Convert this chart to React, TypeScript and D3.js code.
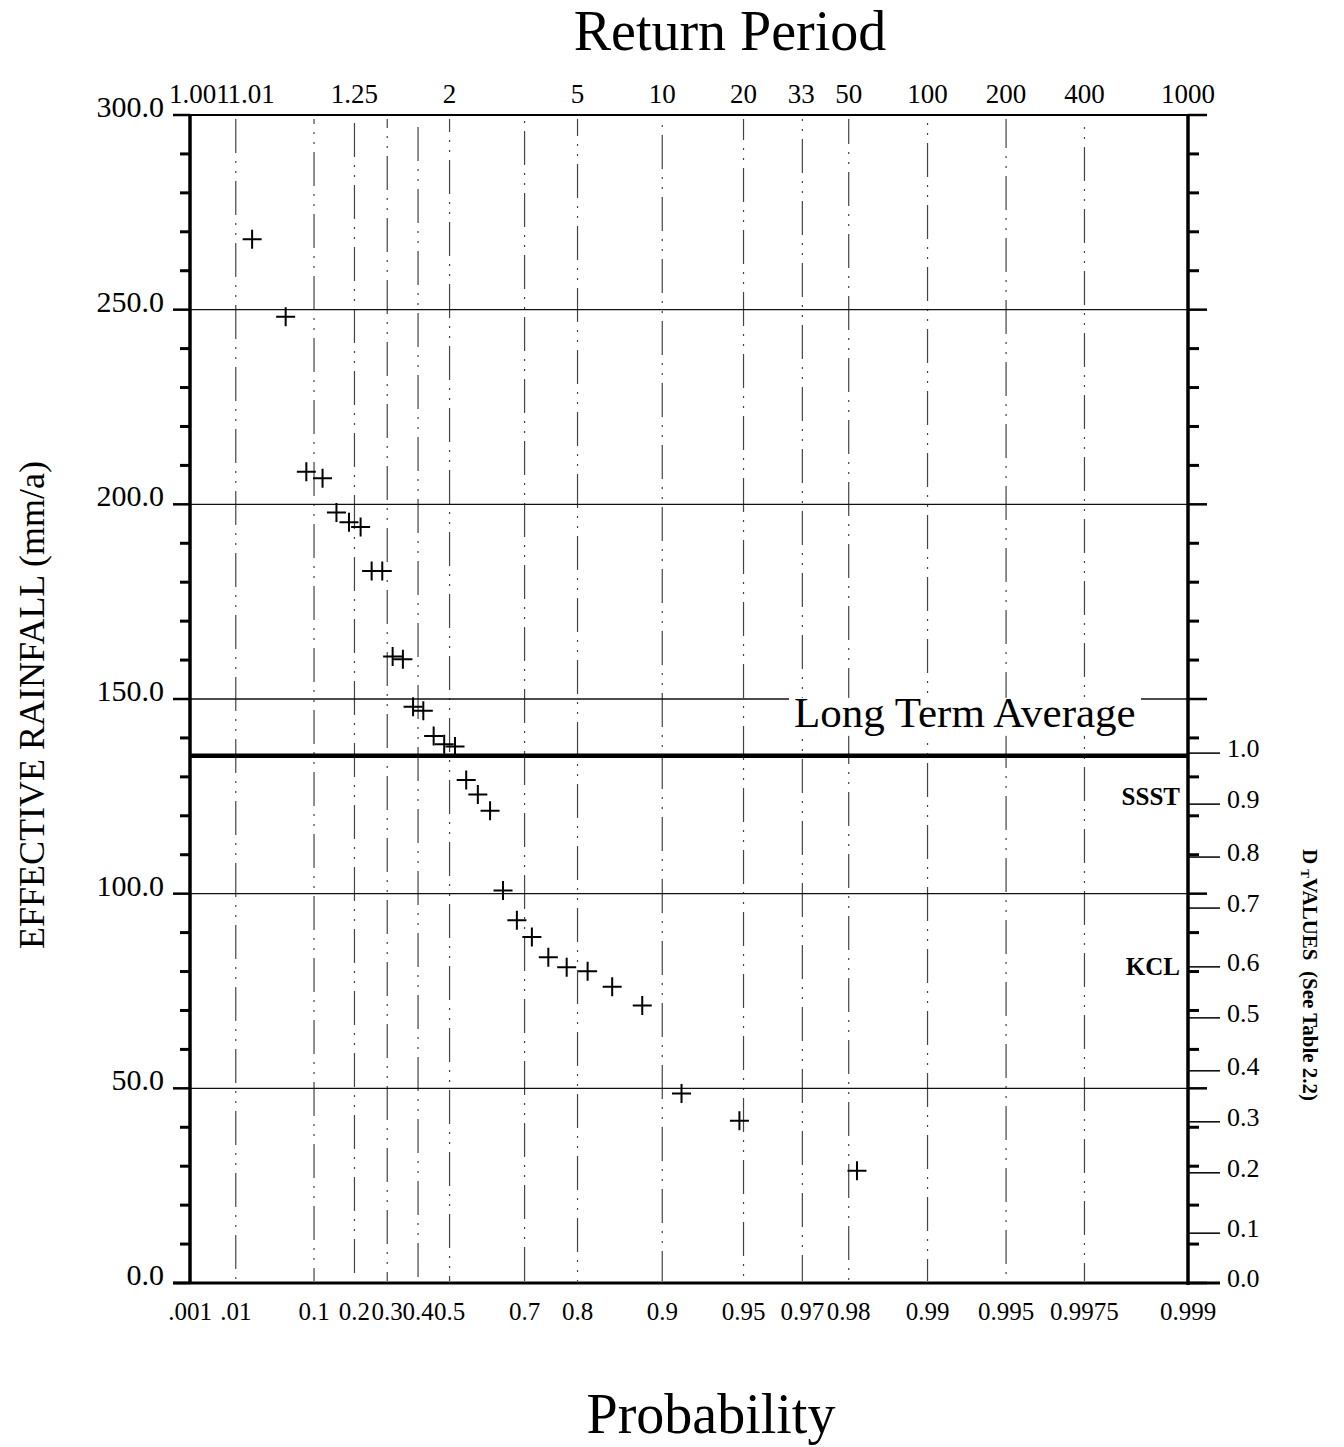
import React, { useEffect, useRef } from "react";
import * as d3 from "d3";

// effective rainfall, ranked (mm/a)
const rainfall = [
  268.1, 248.2, 208.4, 206.7, 197.9, 195.4, 194.2, 182.9, 182.9, 160.9,
  160.2, 148.0, 147.0, 140.5, 138.4, 137.8, 129.2, 125.5, 121.3, 100.8,
  93.2, 88.9, 83.7, 81.1, 80.1, 76.1, 71.3, 48.7, 41.7, 28.8,
];

// probability of each point
const probability = [
  0.0186, 0.0518, 0.085, 0.1182, 0.1514, 0.1846, 0.2178, 0.251, 0.2842, 0.3174,
  0.3506, 0.3838, 0.417, 0.4502, 0.4834, 0.5166, 0.5498, 0.583, 0.6162, 0.6494,
  0.6826, 0.7158, 0.749, 0.7822, 0.8154, 0.8486, 0.8818, 0.915, 0.9482, 0.9814,
];

const probTicks = [
  0.001, 0.01, 0.1, 0.2, 0.3, 0.4, 0.5, 0.7, 0.8, 0.9, 0.95, 0.97, 0.98, 0.99,
  0.995, 0.9975, 0.999,
];
const probLabels = [
  ".001", ".01", "0.1", "0.2", "0.3", "0.4", "0.5", "0.7", "0.8", "0.9",
  "0.95", "0.97", "0.98", "0.99", "0.995", "0.9975", "0.999",
];

const returnPeriods = [1.001, 1.01, 1.25, 2, 5, 10, 20, 33, 50, 100, 200, 400, 1000];
const returnLabels = [
  "1.001", "1.01", "1.25", "2", "5", "10", "20", "33", "50", "100", "200", "400", "1000",
];

const rainTicks = [0, 50, 100, 150, 200, 250, 300];

// D_T values on the right, with the rainfall level each one sits at
const dValues = [0, 0.1, 0.2, 0.3, 0.4, 0.5, 0.6, 0.7, 0.8, 0.9, 1.0];
const dRainfall = [0, 12.8, 28.3, 41.4, 54.5, 68.1, 81.2, 96.3, 109.4, 123.0, 136.1];

const longTermAverage = 135.4;

const serif = "'Liberation Serif', 'Times New Roman', serif";

const App = () => {
  const svgRef = useRef(null);

  useEffect(() => {
    const width = 1344;
    const height = 1447;
    const left = 190;
    const right = 1188;
    const top = 115;
    const bottom = 1283;

    const svg = d3.select(svgRef.current);
    svg.selectAll("*").remove();
    svg.attr("viewBox", [0, 0, width, height]).style("font-family", serif);

    svg.append("rect").attr("width", width).attr("height", height).attr("fill", "#fff");

    // gumbel reduced variate for the probability paper
    const gumbel = (p) => -Math.log(-Math.log(p));
    const gx = d3.scaleLinear().domain([gumbel(0.001), gumbel(0.999)]).range([left, right]);
    const x = (p) => gx(gumbel(p));
    const y = d3.scaleLinear().domain([0, 300]).range([bottom, top]);
    const dToRain = d3.scaleLinear().domain(dValues).range(dRainfall);

    // vertical dash-dot grid (scanned look: uneven phase per line)
    probTicks.slice(1, -1).forEach((p, i) => {
      svg
        .append("line")
        .attr("x1", x(p))
        .attr("x2", x(p))
        .attr("y1", top + 4)
        .attr("y2", bottom - 2)
        .attr("stroke", "#444")
        .attr("stroke-width", 1.2)
        .attr("stroke-dasharray", "34 8 2 8 2 8")
        .attr("stroke-dashoffset", (i * 29) % 62);
    });

    // horizontal grid lines
    rainTicks.slice(1, -1).forEach((r) => {
      svg
        .append("line")
        .attr("x1", left)
        .attr("x2", right)
        .attr("y1", y(r))
        .attr("y2", y(r))
        .attr("stroke", "#111")
        .attr("stroke-width", 1.4);
    });

    // long term average label with white backing
    svg
      .append("rect")
      .attr("x", 789)
      .attr("y", y(longTermAverage) - 58)
      .attr("width", 352)
      .attr("height", 38)
      .attr("fill", "#fff");
    svg
      .append("text")
      .attr("x", 794)
      .attr("y", y(longTermAverage) - 29)
      .attr("font-size", 43)
      .attr("fill", "#000")
      .text("Long Term Average");

    svg
      .append("line")
      .attr("x1", left)
      .attr("x2", right)
      .attr("y1", y(longTermAverage))
      .attr("y2", y(longTermAverage))
      .attr("stroke", "#000")
      .attr("stroke-width", 4.5);

    // frame
    svg
      .append("line")
      .attr("x1", left - 17)
      .attr("x2", right)
      .attr("y1", top)
      .attr("y2", top)
      .attr("stroke", "#000")
      .attr("stroke-width", 2);
    svg
      .append("line")
      .attr("x1", left - 17)
      .attr("x2", right + 32)
      .attr("y1", bottom)
      .attr("y2", bottom)
      .attr("stroke", "#000")
      .attr("stroke-width", 3);
    svg
      .append("line")
      .attr("x1", left)
      .attr("x2", left)
      .attr("y1", top - 1)
      .attr("y2", bottom + 1)
      .attr("stroke", "#000")
      .attr("stroke-width", 3.5);
    svg
      .append("line")
      .attr("x1", right)
      .attr("x2", right)
      .attr("y1", top - 1)
      .attr("y2", bottom + 2)
      .attr("stroke", "#000")
      .attr("stroke-width", 3.5);

    // left + right rainfall ticks
    y.ticks(30).forEach((r) => {
      const major = r % 50 === 0;
      svg
        .append("line")
        .attr("x1", major ? left - 17 : left - 10)
        .attr("x2", left)
        .attr("y1", y(r))
        .attr("y2", y(r))
        .attr("stroke", "#000")
        .attr("stroke-width", major ? 2.5 : 3);
      svg
        .append("line")
        .attr("x1", right)
        .attr("x2", major ? right + 19 : right + 11)
        .attr("y1", y(r))
        .attr("y2", y(r))
        .attr("stroke", "#000")
        .attr("stroke-width", major ? 2.5 : 3);
    });

    // left labels
    rainTicks.forEach((r) => {
      svg
        .append("text")
        .attr("x", left - 26)
        .attr("y", y(r) + 2)
        .attr("text-anchor", "end")
        .attr("font-size", 30)
        .text(r.toFixed(1));
    });

    // right D_T axis
    dValues.forEach((d) => {
      const yy = y(dToRain(d));
      svg
        .append("line")
        .attr("x1", right)
        .attr("x2", right + 32)
        .attr("y1", yy)
        .attr("y2", yy)
        .attr("stroke", "#000")
        .attr("stroke-width", 1.5);
      svg
        .append("text")
        .attr("x", right + 39)
        .attr("y", yy + 4)
        .attr("font-size", 26)
        .text(d.toFixed(1));
    });

    svg
      .append("text")
      .attr("x", right - 8)
      .attr("y", y(dToRain(0.9)) + 1)
      .attr("text-anchor", "end")
      .attr("font-size", 25)
      .attr("font-weight", "bold")
      .text("SSST");
    svg
      .append("text")
      .attr("x", right - 8)
      .attr("y", y(dToRain(0.6)) + 8)
      .attr("text-anchor", "end")
      .attr("font-size", 25)
      .attr("font-weight", "bold")
      .text("KCL");

    // bottom probability labels
    probTicks.forEach((p, i) => {
      svg
        .append("text")
        .attr("x", x(p))
        .attr("y", bottom + 37)
        .attr("text-anchor", "middle")
        .attr("font-size", 25)
        .text(probLabels[i]);
    });

    // top return period labels (first two sit side by side, as in the original)
    returnPeriods.forEach((t, i) => {
      const xx = x(1 - 1 / t);
      svg
        .append("text")
        .attr("x", i === 0 ? xx - 21 : i === 1 ? xx - 8 : xx)
        .attr("y", top - 12)
        .attr("text-anchor", i < 2 ? "start" : "middle")
        .attr("font-size", 27)
        .text(returnLabels[i]);
    });

    // data points
    const arm = 9.5;
    rainfall.forEach((r, i) => {
      const cx = x(probability[i]);
      const cy = y(r);
      svg
        .append("path")
        .attr("d", `M${cx - arm},${cy}H${cx + arm}M${cx},${cy - arm}V${cy + arm}`)
        .attr("stroke", "#000")
        .attr("stroke-width", 2)
        .attr("fill", "none");
    });

    // titles
    svg
      .append("text")
      .attr("x", 730)
      .attr("y", 50)
      .attr("text-anchor", "middle")
      .attr("font-size", 56)
      .text("Return Period");
    svg
      .append("text")
      .attr("x", 711)
      .attr("y", 1433)
      .attr("text-anchor", "middle")
      .attr("font-size", 56)
      .text("Probability");
    svg
      .append("text")
      .attr("transform", "translate(44,705) rotate(-90)")
      .attr("text-anchor", "middle")
      .attr("font-size", 36)
      .text("EFFECTIVE RAINFALL (mm/a)");

    const dTitle = svg
      .append("text")
      .attr("transform", "translate(1303,975) rotate(90)")
      .attr("text-anchor", "middle")
      .attr("font-size", 21)
      .attr("font-weight", "bold");
    dTitle.append("tspan").text("D ");
    dTitle.append("tspan").attr("font-size", 13).attr("dy", 2).text("T");
    dTitle.append("tspan").attr("dy", -2).text("VALUES\u00a0\u00a0(See Table 2.2)");
  }, []);

  return (
    <div style={{ position: "absolute", left: 0, top: 0 }}>
      <svg ref={svgRef} width={1344} height={1447} style={{ display: "block" }} />
    </div>
  );
};

export default App;
